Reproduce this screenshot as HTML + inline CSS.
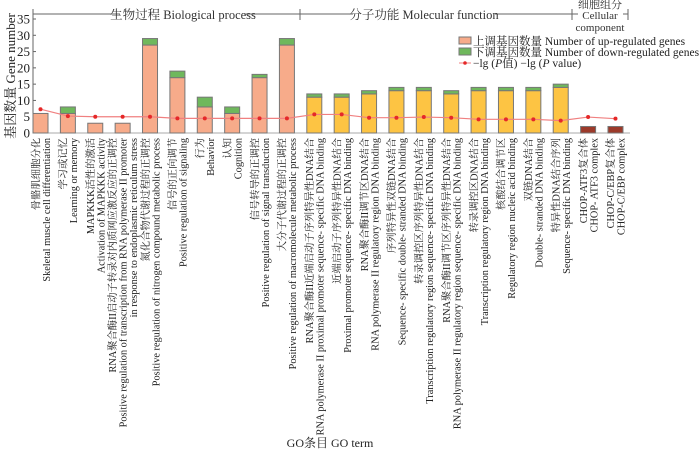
<!DOCTYPE html>
<html><head><meta charset="utf-8"><style>
html,body{margin:0;padding:0;background:#fff;}
svg{display:block;font-family:"Liberation Serif","Noto Serif CJK SC",serif;}
</style></head><body>
<svg id="chart" width="700" height="475" viewBox="0 0 700 475" xmlns="http://www.w3.org/2000/svg">
<g id="header" stroke="#666" stroke-width="1" font-size="12" fill="#333">
  <line x1="33" y1="14" x2="120" y2="14"/>
  <line x1="245" y1="14" x2="300" y2="14"/>
  <line x1="33" y1="9" x2="33" y2="20"/>
  <line x1="300" y1="9" x2="300" y2="20"/>
  <line x1="300" y1="14" x2="353" y2="14"/>
  <line x1="495" y1="14" x2="572" y2="14"/>
  <line x1="572" y1="9" x2="572" y2="20"/>
  <line x1="572" y1="14" x2="578" y2="14"/>
  <line x1="623" y1="14" x2="628" y2="14"/>
  <line x1="628" y1="9" x2="628" y2="20"/>
  <text x="183" y="19" text-anchor="middle" stroke="none" font-size="12.5">生物过程  Biological process</text>
  <text x="424" y="19" text-anchor="middle" stroke="none" font-size="12.5">分子功能  Molecular function</text>
  <text x="600" y="8" text-anchor="middle" stroke="none" font-size="11">细胞组分</text>
  <text x="600" y="19" text-anchor="middle" stroke="none" font-size="11">Cellular</text>
  <text x="600" y="31" text-anchor="middle" stroke="none" font-size="11">component</text>
</g>
<g id="legend" font-size="11.5" fill="#222">
  <rect x="459" y="37" width="12" height="7" fill="#f7ab8a" stroke="#777"/>
  <text x="473" y="45">上调基因数量 Number of up-regulated genes</text>
  <rect x="459" y="48" width="12" height="7" fill="#6fb85c" stroke="#777"/>
  <text x="473" y="56">下调基因数量 Number of down-regulated genes</text>
  <line x1="459" y1="63" x2="471" y2="63" stroke="#f08080"/>
  <circle cx="465" cy="63" r="1.8" fill="#e52828"/>
  <text x="473" y="67">−lg (<tspan font-style="italic">P</tspan>值)  −lg (<tspan font-style="italic">P</tspan> value)</text>
</g>
<text x="0" y="0" transform="translate(15,76) rotate(-90)" text-anchor="middle" font-size="13" fill="#222">基因数量  Gene number</text>
<text x="330" y="447" text-anchor="middle" font-size="12" fill="#222">GO条目  GO term</text>
<g id="axes"></g>
<g id="bars"></g>
<g id="pline"></g>
<g id="xlabels"></g>
</svg>
<script>
const upValues=[6,6,3,3,27,17,8,6,17,27,11,11,12,13,13,12,13,13,13,14,2,2];
const downValues=[0,2,0,0,2,2,3,2,1,2,1,1,1,1,1,1,1,1,1,1,0,0];
const pValues=[7.3,5.2,5,5,5,4.5,4.5,4.5,4.5,4.5,5.7,5.7,4.7,4.7,4.9,4.7,4.2,4.2,4.2,3.8,4.9,4.4];
const groups=["BP","BP","BP","BP","BP","BP","BP","BP","BP","BP","MF","MF","MF","MF","MF","MF","MF","MF","MF","MF","CC","CC"];
const yTicks=[0,5,10,15,20,25,30,35];
const categoryLabels=[
["骨骼肌细胞分化","Skeletal muscle cell differentiation"],
["学习或记忆","Learning or memory"],
["MAPKKK活性的激活","Activation of MAPKKK activity"],
["RNA聚合酶II启动子转录对内质网应激反应的正调控","Positive regulation of transcription from RNA polymerase II promoter","in response to endoplasmic reticulum stress"],
["氮化合物代谢过程的正调控","Positive regulation of nitrogen compound metabolic process"],
["信号的正向调节","Positive regulation of signaling"],
["行为","Behavior"],
["认知","Cognition"],
["信号转导的正调控","Positive regulation of signal transduction"],
["大分子代谢过程的正调控","Positive regulation of macromolecule metabolic process"],
["RNA聚合酶II近端启动子序列特异性DNA结合","RNA polymerase II proximal promoter sequence- specific DNA binding"],
["近端启动子序列特异性DNA结合","Proximal promoter sequence- specific DNA binding"],
["RNA聚合酶II调节区DNA结合","RNA polymerase II regulatory region DNA binding"],
["序列特异性双链DNA结合","Sequence- specific double- stranded DNA binding"],
["转录调控区序列特异性DNA结合","Transcription regulatory region sequence- specific DNA binding"],
["RNA聚合酶II调节区序列特异性DNA结合","RNA polymerase II regulatory region sequence- specific DNA binding"],
["转录调控区DNA结合","Transcription regulatory region DNA binding"],
["核酸结合调节区","Regulatory region nucleic acid binding"],
["双链DNA结合","Double- stranded DNA binding"],
["特异性DNA结合序列","Sequence- specific DNA binding"],
["CHOP-ATF3复合体","CHOP- ATF3 complex"],
["CHOP-C/EBP复合体","CHOP-C/EBP complex"]
];
const NS="http://www.w3.org/2000/svg";
const x0=33,step=27.38,barW=15,yBase=133,yTop=19,yMax=35;
function xs(i){return x0+7.5+step*i;}
function ys(v){return yBase-(v/yMax)*(yBase-yTop);}
const upColor={BP:"#f7ab8a",MF:"#fdc443",CC:"#9c3a2a"};
function mk(tag,attrs,parent){const e=document.createElementNS(NS,tag);for(const k in attrs)e.setAttribute(k,attrs[k]);parent.appendChild(e);return e;}
const axes=document.getElementById('axes');
let yl=mk('line',{x1:x0,y1:yTop,x2:x0,y2:yBase,stroke:'#666'},axes);


let xl=mk('line',{x1:x0,y1:yBase,x2:630,y2:yBase,stroke:'#aaa'},axes);


yTicks.forEach(t=>{
  const tk=mk('line',{x1:x0,y1:ys(t),x2:x0+3,y2:ys(t),stroke:'#666'},axes);
  
  
  const tl=mk('text',{x:x0-3,y:ys(t)+4.5,'text-anchor':'end','font-size':'13',fill:'#222'},axes);
  tl.textContent=t;
  
  
});
const bars=document.getElementById('bars');
upValues.forEach((u,i)=>{
  const cx=xs(i);
  const r=mk('rect',{x:cx-barW/2,y:ys(u),width:barW,height:ys(0)-ys(u),fill:upColor[groups[i]],stroke:'#777','stroke-width':1},bars);
  
  
  const d=downValues[i];
  if(d>0){
    const r2=mk('rect',{x:cx-barW/2,y:ys(u+d),width:barW,height:ys(u)-ys(u+d),fill:'#6fb85c',stroke:'#777','stroke-width':1},bars);
    
    
  }
});
const pl=document.getElementById('pline');
const pts=pValues.map((v,i)=>xs(i)+','+ys(v)).join(' ');
const poly=mk('polyline',{points:pts,fill:'none',stroke:'#f08080','stroke-width':1.2},pl);


pValues.forEach((v,i)=>{
  const c=mk('circle',{cx:xs(i),cy:ys(v),r:2,fill:'#e52828'},pl);
  
  
});
const xlg=document.getElementById('xlabels');
const lh=10.5;
categoryLabels.forEach((lines,i)=>{
  const cx=xs(i);
  const n=lines.length;
  lines.forEach((s,j)=>{
    const lx=cx+(j-(n-1)/2)*lh+4;
    const t=mk('text',{x:0,y:0,transform:'translate('+lx+',138) rotate(-90)','text-anchor':'end','font-size':'10.3',fill:'#222'},xlg);
    t.textContent=s;
    
    
  });
});
</script>
</body></html>
